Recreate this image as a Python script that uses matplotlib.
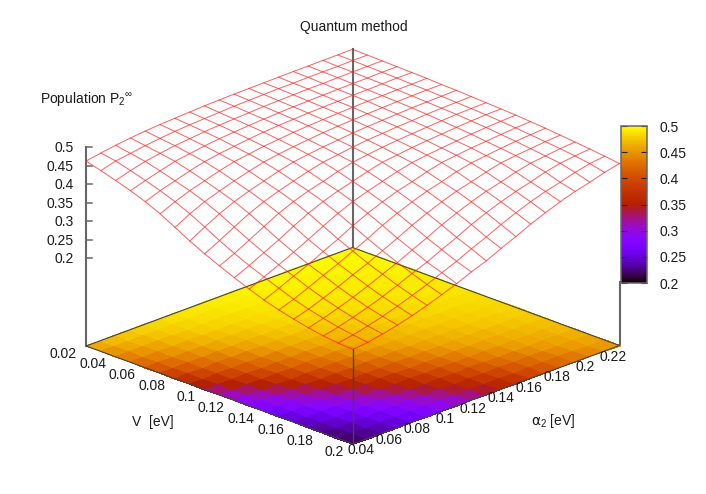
import numpy as np
import matplotlib
matplotlib.use('Agg')
import matplotlib.pyplot as plt

plt.rcParams['font.family'] = ['Liberation Sans', 'DejaVu Sans']
plt.rcParams['mathtext.fontset'] = 'custom'
plt.rcParams['mathtext.rm'] = 'Liberation Sans'
plt.rcParams['mathtext.it'] = 'DejaVu Sans'
plt.rcParams['mathtext.bf'] = 'Liberation Sans'
plt.rcParams['mathtext.fallback'] = 'stixsans'

# grid of the surface
v_grid = [0.02, 0.03, 0.04, 0.05, 0.06, 0.07, 0.08, 0.09, 0.10, 0.11,
          0.12, 0.13, 0.14, 0.15, 0.16, 0.17, 0.18, 0.19, 0.20]
alpha_grid = [0.04, 0.0506, 0.0611, 0.0717, 0.0822, 0.0928, 0.1033, 0.1139, 0.1244, 0.135,
              0.1456, 0.1561, 0.1667, 0.1772, 0.1878, 0.1983, 0.2089, 0.2194, 0.23]

# population, one row per V
population = [
    [.462, .469, .475, .480, .484, .487, .489, .491, .493, .494, .495, .4955, .496, .4965, .497, .497, .4975, .4975, .498],
    [.451, .462, .468, .474, .479, .483, .486, .488, .490, .492, .493, .494, .495, .495, .496, .496, .496, .497, .497],
    [.439, .451, .461, .468, .474, .478, .482, .485, .487, .489, .491, .492, .493, .494, .494, .495, .4955, .496, .496],
    [.426, .439, .450, .461, .467, .473, .478, .481, .484, .4865, .4885, .490, .491, .492, .493, .4935, .494, .495, .495],
    [.411, .426, .438, .450, .460, .467, .472, .477, .481, .484, .486, .488, .489, .490, .4915, .492, .493, .494, .494],
    [.393, .411, .426, .438, .450, .460, .466, .472, .476, .480, .483, .485, .487, .4885, .490, .4905, .4915, .492, .493],
    [.371, .393, .411, .425, .4375, .449, .459, .4655, .471, .475, .479, .482, .484, .486, .4875, .489, .490, .491, .491],
    [.349, .372, .393, .411, .425, .437, .449, .459, .465, .470, .474, .478, .481, .483, .485, .487, .488, .489, .490],
    [.329, .350, .372, .3935, .411, .425, .437, .4485, .4585, .464, .4695, .474, .477, .480, .482, .4845, .486, .487, .488],
    [.311, .330, .351, .373, .394, .411, .425, .436, .448, .458, .464, .469, .473, .476, .479, .4815, .484, .485, .486],
    [.294, .312, .332, .352, .374, .394, .411, .425, .436, .448, .458, .463, .468, .472, .475, .4785, .481, .483, .484],
    [.278, .296, .314, .333, .353, .374, .394, .4105, .424, .436, .4475, .457, .4625, .467, .471, .475, .478, .480, .482],
    [.263, .280, .298, .315, .335, .354, .375, .394, .410, .424, .435, .447, .457, .462, .467, .470, .474, .477, .479],
    [.251, .265, .282, .300, .317, .336, .355, .376, .394, .410, .424, .435, .447, .456, .461, .466, .470, .473, .476],
    [.241, .253, .268, .284, .3015, .318, .337, .356, .376, .394, .410, .424, .4345, .446, .456, .461, .465, .469, .472],
    [.232, .243, .256, .270, .286, .303, .320, .339, .357, .377, .3945, .410, .4235, .434, .446, .455, .460, .465, .468],
    [.225, .234, .2455, .258, .272, .288, .305, .321, .340, .358, .378, .395, .410, .423, .434, .446, .455, .460, .464],
    [.220, .2275, .237, .248, .261, .275, .290, .307, .323, .342, .359, .378, .395, .410, .423, .433, .445, .454, .459],
    [.218, .222, .230, .239, .250, .263, .277, .292, .309, .324, .343, .360, .379, .395, .410, .423, .433, .445, .454],
]

v_ticks = [0.02, 0.04, 0.06, 0.08, 0.1, 0.12, 0.14, 0.16, 0.18, 0.2]
v_labels = ['0.02', '0.04', '0.06', '0.08', '0.1', '0.12', '0.14', '0.16', '0.18', '0.2']
alpha_ticks = [0.04, 0.06, 0.08, 0.1, 0.12, 0.14, 0.16, 0.18, 0.2, 0.22]
alpha_labels = ['0.04', '0.06', '0.08', '0.1', '0.12', '0.14', '0.16', '0.18', '0.2', '0.22']
z_ticks = [0.2, 0.25, 0.3, 0.35, 0.4, 0.45, 0.5]
z_labels = ['0.2', '0.25', '0.3', '0.35', '0.4', '0.45', '0.5']

z_base = -0.0378
axis_col = '#666666'
text_col = '#1a1a1a'
fs = 10


def project(v, a, z):
    # same kind of view as gnuplot's splot, result in pixels
    u = (np.asarray(v) - 0.02) / 0.18
    w = (np.asarray(a) - 0.04) / 0.19
    x = 86 + 267 * u + 266.5 * w
    y = 346 + 98 * u - 98.5 * w - (np.asarray(z) - z_base) * 370
    return x, y


fig = plt.figure(figsize=(7.06, 4.94), dpi=100)
ax = fig.add_axes([0, 0, 1, 1])
ax.set_xlim(0, 706)
ax.set_ylim(494, 0)
ax.axis('off')

Z = np.array(population)
A, V = np.meshgrid(alpha_grid, v_grid)

# axis verticals behind everything
for v, a, top in [(0.02, 0.04, 0.5), (0.02, 0.23, Z[0, -1]), (0.2, 0.23, 0.133)]:
    xs, ys = project([v, v], [a, a], [z_base, top])
    ax.plot(xs, ys, color=axis_col, lw=1.5, zorder=1)

# z ticks on the left vertical
for t, lab in zip(z_ticks, z_labels):
    x, y = project(0.02, 0.04, t)
    ax.plot([x, x + 6], [y, y], color=axis_col, lw=1.1, zorder=1)
    ax.text(73.5, y + 1, lab, ha='right', va='center', fontsize=fs, color=text_col)

# pm3d map on the base
bx, by = project(V, A, z_base)
cell = (Z[:-1, :-1] + Z[1:, :-1] + Z[:-1, 1:] + Z[1:, 1:]) / 4
pm = ax.pcolormesh(bx, by, cell, cmap='gnuplot', vmin=0.2, vmax=0.5,
                   shading='flat', edgecolors='face', linewidth=0.3, zorder=2)

# base outline
xs, ys = project([0.02, 0.2, 0.2, 0.02, 0.02], [0.04, 0.04, 0.23, 0.23, 0.04], z_base)
ax.plot(xs, ys, color='#444444', lw=0.8, zorder=3)

# front vertical, up to the surface corner
xs, ys = project([0.2, 0.2], [0.04, 0.04], [z_base, Z[-1, 0]])
ax.plot(xs, ys, color='#444444', lw=1.0, zorder=3)

# wire mesh
sx, sy = project(V, A, Z)
for i in range(len(v_grid)):
    ax.plot(sx[i], sy[i], color='#ff2020', lw=0.7, alpha=0.72, zorder=4)
for j in range(len(alpha_grid)):
    ax.plot(sx[:, j], sy[:, j], color='#ff2020', lw=0.7, alpha=0.72, zorder=4)

# tick labels on the base
for t, lab in zip(v_ticks, v_labels):
    x, y = project(t, 0.04, z_base)
    ax.text(x - 9.5, y + 7.5, lab, ha='right', va='center', fontsize=fs, color=text_col)
for t, lab in zip(alpha_ticks, alpha_labels):
    x, y = project(0.2, t, z_base)
    ax.text(x + 8, y + 6, lab, ha='center', va='center', fontsize=fs, color=text_col)

ax.text(353.5, 27, 'Quantum method', ha='center', va='center', fontsize=fs, color=text_col)
ax.text(40.5, 99, r'Population P$_{2}{}^{\infty}$', ha='left', va='center', fontsize=fs, color=text_col)
ax.text(153, 422, 'V  [eV]', ha='center', va='center', fontsize=fs, color=text_col)
ax.text(553, 421, r'$\alpha_{2}$ [eV]', ha='center', va='center', fontsize=fs, color=text_col)

# colour box
cax = fig.add_axes([620.5 / 706, (494 - 283) / 494, 26 / 706, 157 / 494])
cb = fig.colorbar(pm, cax=cax)
cb.set_ticks(z_ticks)
cb.set_ticklabels(z_labels)
cb.ax.tick_params(direction='in', left=True, right=True, length=4.3, width=0.8,
                  color='#222222', labelsize=fs, labelcolor=text_col, pad=9)
cb.outline.set_edgecolor(axis_col)
cb.outline.set_linewidth(1.1)

fig.savefig('out.png', dpi=100)
